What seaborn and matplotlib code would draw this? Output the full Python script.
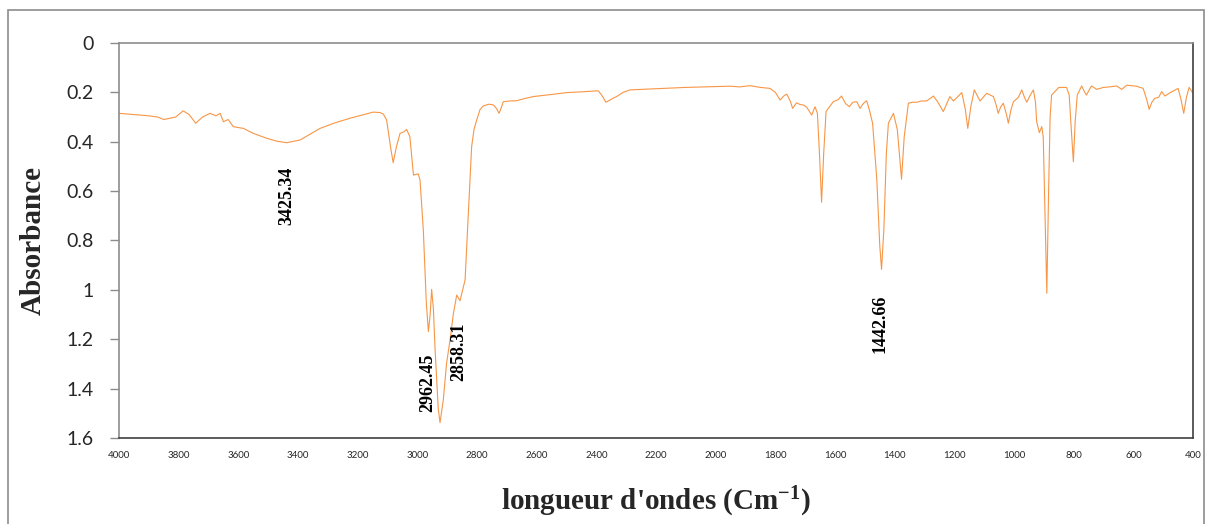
import matplotlib
matplotlib.use("Agg")
import matplotlib.pyplot as plt
from matplotlib.patches import Rectangle
import pandas as pd
import seaborn as sns

# IR spectrum (wavenumber in cm-1, absorbance)
wavenumber = [
    4000, 3950, 3900, 3870, 3850, 3830, 3810, 3785, 3765, 3743, 3720, 3695, 3675, 3661, 3650,
    3634, 3617, 3583, 3550, 3505, 3470, 3438, 3393, 3360, 3326, 3280, 3226, 3180, 3148, 3125,
    3114, 3103, 3090, 3081, 3070, 3058, 3045, 3036, 3025, 3013, 2997, 2991, 2980, 2970, 2963,
    2957, 2952, 2946, 2941, 2930, 2924, 2913, 2902, 2890, 2879, 2868, 2857, 2848, 2840, 2829,
    2818, 2810, 2801, 2790, 2779, 2760, 2745, 2735, 2726, 2718, 2712, 2690, 2667, 2640, 2611,
    2560, 2499, 2450, 2399, 2393, 2380, 2368, 2350, 2332, 2310, 2287, 2250, 2176, 2100, 2008,
    1950, 1920, 1885, 1850, 1818, 1800, 1784, 1772, 1762, 1750, 1742, 1729, 1716, 1706, 1695,
    1678, 1667, 1659, 1652, 1645, 1638, 1630, 1606, 1590, 1578, 1565, 1552, 1540, 1527, 1516,
    1505, 1494, 1485, 1474, 1460, 1450, 1444, 1436, 1428, 1421, 1404, 1391, 1384, 1377, 1368,
    1354, 1340, 1326, 1310, 1293, 1270, 1255, 1237, 1215, 1203, 1175, 1163, 1155, 1145, 1133,
    1114, 1092, 1069, 1060, 1053, 1045, 1036, 1025, 1019, 1010, 1002, 985, 974, 965, 957,
    945, 935, 928, 924, 915, 907, 902, 896, 890, 884, 879, 874, 850, 824, 815,
    808, 801, 795, 788, 773, 765, 757, 748, 740, 723, 700, 680, 656, 639, 622,
    590, 567, 555, 547, 538, 528, 515, 505, 494, 475, 450, 440, 431, 422, 413,
    400,
]
absorbance = [
    0.285, 0.29, 0.295, 0.30, 0.31, 0.305, 0.30, 0.275, 0.29, 0.325, 0.30, 0.285, 0.295, 0.285, 0.319,
    0.31, 0.339, 0.346, 0.366, 0.386, 0.398, 0.404, 0.393, 0.37, 0.346, 0.325, 0.305, 0.29, 0.28, 0.282,
    0.288, 0.312, 0.42, 0.485, 0.42, 0.366, 0.36, 0.35, 0.38, 0.535, 0.53, 0.555, 0.757, 1.05, 1.169,
    1.10, 0.998, 1.08, 1.23, 1.48, 1.538, 1.446, 1.297, 1.20, 1.095, 1.021, 1.044, 1.00, 0.96, 0.69,
    0.42, 0.35, 0.312, 0.27, 0.255, 0.248, 0.251, 0.265, 0.285, 0.26, 0.238, 0.235, 0.234, 0.225, 0.217,
    0.21, 0.201, 0.198, 0.194, 0.194, 0.215, 0.24, 0.228, 0.217, 0.2, 0.19, 0.188, 0.184, 0.18, 0.177,
    0.175, 0.178, 0.173, 0.18, 0.184, 0.2, 0.231, 0.215, 0.207, 0.235, 0.265, 0.242, 0.25, 0.251, 0.26,
    0.292, 0.258, 0.285, 0.45, 0.645, 0.45, 0.278, 0.238, 0.23, 0.215, 0.245, 0.258, 0.24, 0.238, 0.265,
    0.245, 0.234, 0.27, 0.325, 0.55, 0.82, 0.917, 0.75, 0.45, 0.325, 0.285, 0.352, 0.45, 0.552, 0.38,
    0.244, 0.24, 0.24, 0.235, 0.235, 0.215, 0.24, 0.278, 0.217, 0.235, 0.201, 0.27, 0.346, 0.26, 0.19,
    0.235, 0.204, 0.217, 0.25, 0.285, 0.26, 0.244, 0.29, 0.325, 0.27, 0.238, 0.22, 0.19, 0.22, 0.24,
    0.21, 0.19, 0.24, 0.319, 0.363, 0.339, 0.38, 0.70, 1.014, 0.60, 0.30, 0.211, 0.18, 0.18, 0.211,
    0.35, 0.481, 0.32, 0.211, 0.174, 0.195, 0.211, 0.19, 0.174, 0.188, 0.18, 0.178, 0.174, 0.188, 0.171,
    0.175, 0.184, 0.23, 0.269, 0.24, 0.224, 0.22, 0.197, 0.215, 0.2, 0.184, 0.23, 0.285, 0.22, 0.18,
    0.204,
]

# peak labels: text, x (cm-1), y (absorbance) of label centre
peak_labels = ["3425.34", "2962.45", "2858.31", "1442.66"]
peak_x = [3437, 2966, 2860, 1449]
peak_y = [0.62, 1.377, 1.25, 1.138]

x_ticks = list(range(4000, 399, -200))
y_ticks = [0, 0.2, 0.4, 0.6, 0.8, 1, 1.2, 1.4, 1.6]
y_ticklabels = ["0", "0.2", "0.4", "0.6", "0.8", "1", "1.2", "1.4", "1.6"]

sns.set_style("white")
plt.rcParams["font.family"] = ["Lato", "DejaVu Sans"]
plt.rcParams["mathtext.fontset"] = "custom"
plt.rcParams["mathtext.rm"] = "Liberation Serif:bold"
plt.rcParams["mathtext.bf"] = "Liberation Serif:bold"
plt.rcParams["mathtext.default"] = "rm"

df = pd.DataFrame({"Wavenumber": wavenumber, "Absorbance": absorbance})

fig = plt.figure(figsize=(12.07, 5.24), dpi=100)
ax = fig.add_axes([0.0986, 0.1641, 0.8898, 0.7539])

sns.lineplot(data=df, x="Wavenumber", y="Absorbance", ax=ax, sort=False,
             color="#F79646", linewidth=0.8)

ax.set_xlim(4000, 400)
ax.set_ylim(1.6, 0)
ax.set_xticks(x_ticks)
ax.set_xticklabels([str(t) for t in x_ticks], fontsize=7)
ax.set_yticks(y_ticks)
ax.set_yticklabels(y_ticklabels, fontsize=14)
ax.tick_params(axis="y", direction="out", length=6.5, width=1, color="#8c8c8c", pad=12, left=True)
ax.tick_params(axis="x", length=0, pad=9)

ax.set_xlabel("longueur d'ondes (Cm$^{-1}$)", fontsize=21, fontweight="bold",
              family="Liberation Serif", labelpad=18)
ax.set_ylabel("Absorbance", fontsize=21, fontweight="bold", family="Liberation Serif", labelpad=14)

for side in ["left", "top"]:
    ax.spines[side].set_color("#8c8c8c")
    ax.spines[side].set_linewidth(1.2)
for side in ["right", "bottom"]:
    ax.spines[side].set_color("#404040")
    ax.spines[side].set_linewidth(1.2)

for label, px, py in zip(peak_labels, peak_x, peak_y):
    ax.text(px, py, label, rotation=90, ha="center", va="center", fontsize=13,
            fontweight="bold", family="Liberation Serif", color="black")

# outer chart frame
fig.patches.append(Rectangle((8 / 1207, -0.05), 1196 / 1207, 1.05 - 10 / 524,
                             transform=fig.transFigure, fill=False,
                             edgecolor="#8c8c8c", linewidth=1.2))

fig.savefig("out.png", dpi=100, facecolor="w")
plt.close(fig)
